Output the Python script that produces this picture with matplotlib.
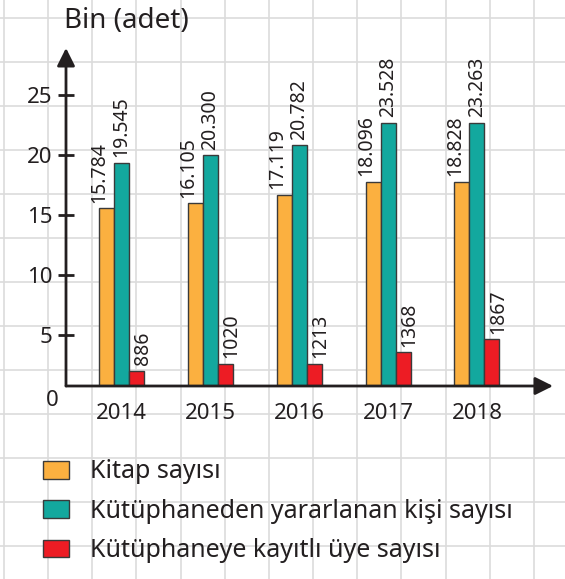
import numpy as np
import matplotlib.pyplot as plt
from matplotlib.patches import Patch

plt.rcParams['font.family'] = ['Noto Sans', 'DejaVu Sans']

years = ['2014', '2015', '2016', '2017', '2018']
# bar heights as drawn (thousands)
kitap = [15.56, 15.97, 16.67, 17.78, 17.78]
kisi = [19.36, 19.97, 20.80, 22.70, 22.70]
uye = [2.00, 2.61, 2.61, 3.56, 4.64]
# printed labels
kitap_lbl = ['15.784', '16.105', '17.119', '18.096', '18.828']
kisi_lbl = ['19.545', '20.300', '20.782', '23.528', '23.263']
uye_lbl = ['886', '1020', '1213', '1368', '1867']
series_names = ['Kitap sayısı', 'Kütüphaneden yararlanan kişi sayısı',
                'Kütüphaneye kayıtlı üye sayısı']
colors = ['#FBB040', '#13A89E', '#ED1C24']
ink = '#231F20'

W, H = 565, 579
fig = plt.figure(figsize=(W / 100, H / 100), dpi=100)

# squared paper background
bg = fig.add_axes([0, 0, 1, 1])
bg.set_xlim(0, W)
bg.set_ylim(H, 0)
bg.axis('off')
for gx in np.arange(4, W, 44.15):
    bg.axvline(gx, color='#dcdcdc', lw=1.2)
for gy in np.arange(17.5, H, 44):
    bg.axhline(gy, color='#dcdcdc', lw=1.2)

# main chart axes (pixel box: x 66..553, y 48..386)
ax = fig.add_axes([66 / W, 1 - 386 / H, (553 - 66) / W, (386 - 48) / H])
ax.patch.set_alpha(0)
ax.set_xlim(-0.627, 4.857)
ax.set_ylim(0.75, 28.92)
for s in ax.spines.values():
    s.set_visible(False)

x = np.arange(len(years))
w = 0.169
for off, vals, lbls, col, dx in [(-w, kitap, kitap_lbl, colors[0], -5),
                                  (0, kisi, kisi_lbl, colors[1], 0),
                                  (w, uye, uye_lbl, colors[2], 4.5)]:
    ax.bar(x + off, vals, width=w, bottom=0, color=col, edgecolor='#3a3a3a',
           linewidth=1, zorder=3)
    for xi, v, t in zip(x + off, vals, lbls):
        ax.annotate(t, (xi, v), xytext=(dx, 4), textcoords='offset points',
                    rotation=90, ha='center', va='bottom', fontsize=14,
                    color=ink, annotation_clip=False)

# axes with arrows
ax.annotate('', xy=(0, 1), xytext=(0, 0), xycoords='axes fraction',
            arrowprops=dict(arrowstyle='-|>,head_length=0.6,head_width=0.3',
                            lw=2, color=ink, shrinkA=0, shrinkB=0,
                            mutation_scale=18), zorder=5)
ax.annotate('', xy=(1, 0), xytext=(0, 0), xycoords='axes fraction',
            arrowprops=dict(arrowstyle='-|>,head_length=0.6,head_width=0.3',
                            lw=2, color=ink, shrinkA=0, shrinkB=0,
                            mutation_scale=18), zorder=5)

ax.set_yticks([5, 10, 15, 20, 25])
ax.set_yticklabels(['5', '10', '15', '20', '25'])
ax.tick_params(axis='y', direction='inout', length=11, width=2, color=ink,
               labelsize=16, labelcolor=ink, pad=4)
ax.set_xticks(x)
ax.set_xticklabels(years)
ax.tick_params(axis='x', length=0, labelsize=16, labelcolor=ink, pad=12)
ax.text(-0.785, -0.42, '0', ha='center', va='center', fontsize=16,
        color=ink, clip_on=False)

fig.text(126 / W, 1 - 21 / H, 'Bin (adet)', ha='center', va='center',
         fontsize=20, color=ink)

handles = [Patch(facecolor=c, edgecolor='#3a3a3a', linewidth=1) for c in colors]
fig.legend(handles, series_names, loc='upper left',
           bbox_to_anchor=(20 / W, 1 - 437 / H), frameon=False, fontsize=18,
           handlelength=1.05, handleheight=0.7, handletextpad=0.85,
           labelspacing=0.57, labelcolor=ink)

fig.savefig('out.png', dpi=100)
